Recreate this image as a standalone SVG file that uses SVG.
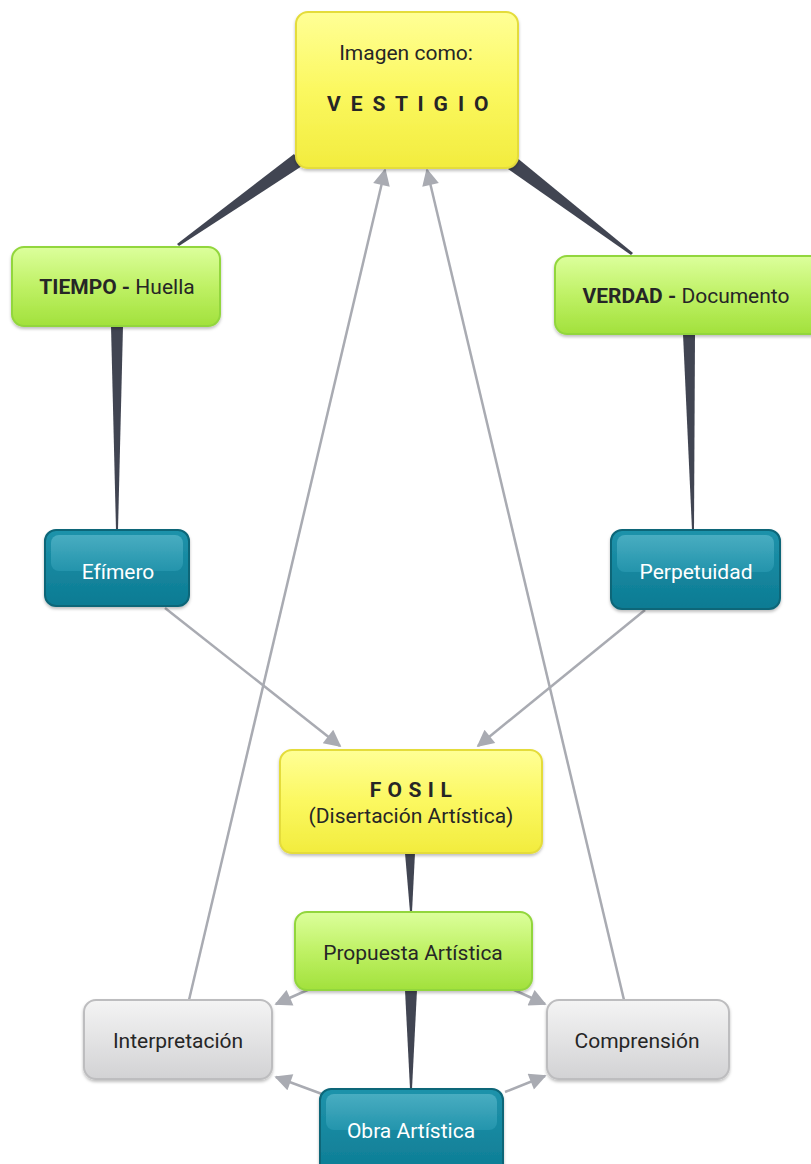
<svg xmlns="http://www.w3.org/2000/svg" width="811" height="1164" viewBox="0 0 811 1164">
<defs>
<linearGradient id="gY" x1="0" y1="0" x2="0" y2="1"><stop offset="0" stop-color="#ffff96"/><stop offset="0.5" stop-color="#fbf860"/><stop offset="1" stop-color="#f2ec3e"/></linearGradient>
<linearGradient id="gG" x1="0" y1="0" x2="0" y2="1"><stop offset="0" stop-color="#dcff9c"/><stop offset="0.5" stop-color="#bff165"/><stop offset="1" stop-color="#a2e13c"/></linearGradient>
<linearGradient id="gT" x1="0" y1="0" x2="0" y2="1"><stop offset="0" stop-color="#1f93ab"/><stop offset="1" stop-color="#0c7b93"/></linearGradient>
<linearGradient id="gTh" x1="0" y1="0" x2="0" y2="1"><stop offset="0" stop-color="#6cc3d4"/><stop offset="1" stop-color="#2f9fb7"/></linearGradient>
<linearGradient id="gS" x1="0" y1="0" x2="0" y2="1"><stop offset="0" stop-color="#f4f4f4"/><stop offset="1" stop-color="#d2d2d4"/></linearGradient>
<filter id="sh" x="-10%" y="-10%" width="120%" height="130%"><feDropShadow dx="0" dy="2" stdDeviation="1.5" flood-color="#000" flood-opacity="0.25"/></filter>
<marker id="ah" viewBox="0 0 10 10" refX="9" refY="5" markerUnits="userSpaceOnUse" markerWidth="19" markerHeight="17" orient="auto"><path d="M0,0 L10,5 L0,10 z" fill="#a9abb2"/></marker>
</defs>
<style>
.t{font-family:Roboto,"Liberation Sans",sans-serif;font-size:21px;fill:#262626;text-anchor:middle}
.w{fill:#ffffff}
.b{font-weight:bold}
.y{fill:url(#gY);stroke:#e4dc3a;stroke-width:2;filter:url(#sh)}
.g{fill:url(#gG);stroke:#92d63c;stroke-width:2;filter:url(#sh)}
.tl{fill:url(#gT);stroke:#0a6678;stroke-width:2;filter:url(#sh)}
.th{fill:url(#gTh);opacity:0.55}
.s{fill:url(#gS);stroke:#bdbdbf;stroke-width:2;filter:url(#sh)}
.wedge{fill:#414552}
.arr{stroke:#a9abb2;stroke-width:2.5;fill:none;marker-end:url(#ah)}
</style>
<g id="connectors">
<polygon class="wedge" points="302,166 294,154 177,244 179,246"/>
<polygon class="wedge" points="508,169 516,157 633,253 631,255"/>
<polygon class="wedge" points="111,326 123,326 118,530 116,530"/>
<polygon class="wedge" points="683,334 695,334 694,530 692,530"/>
<polygon class="wedge" points="405,853 415,853 412,912 410,912"/>
<polygon class="wedge" points="405,990 417,990 412,1089 410,1089"/>
<line class="arr" x1="165" y1="608" x2="340" y2="746"/>
<line class="arr" x1="645" y1="610" x2="478" y2="746"/>
<line class="arr" x1="189" y1="1000" x2="385" y2="170"/>
<line class="arr" x1="624" y1="1000" x2="427" y2="170"/>
<line class="arr" x1="312" y1="988" x2="276" y2="1004"/>
<line class="arr" x1="512" y1="989" x2="545" y2="1004"/>
<line class="arr" x1="322" y1="1094" x2="276" y2="1077"/>
<line class="arr" x1="505" y1="1092" x2="545" y2="1076"/>
</g>
<g id="n-vestigio">
<rect class="y" x="296" y="12" width="222" height="156" rx="12"/>
<text class="t" x="406" y="60">Imagen como:</text>
<text class="t b" x="409" y="111" style="letter-spacing:2.4px">V E S T I G I O</text>
</g>
<g id="n-tiempo">
<rect class="g" x="12" y="247" width="208" height="79" rx="12"/>
<text class="t" x="117" y="294"><tspan class="b">TIEMPO -</tspan> Huella</text>
</g>
<g id="n-verdad">
<rect class="g" x="555" y="256" width="270" height="78" rx="12"/>
<text class="t" x="686" y="303"><tspan class="b">VERDAD -</tspan> Documento</text>
</g>
<g id="n-efimero">
<rect class="tl" x="45" y="530" width="144" height="76" rx="11"/>
<rect class="th" x="51" y="535" width="132" height="36" rx="8"/>
<text class="t w" x="118" y="579">Efímero</text>
</g>
<g id="n-perpetuidad">
<rect class="tl" x="611" y="530" width="169" height="79" rx="11"/>
<rect class="th" x="617" y="535" width="157" height="37" rx="8"/>
<text class="t w" x="696" y="579">Perpetuidad</text>
</g>
<g id="n-fosil">
<rect class="y" x="280" y="750" width="262" height="103" rx="12"/>
<text class="t b" x="411" y="797" style="letter-spacing:0.6px">F O S I L</text>
<text class="t" x="411" y="823">(Disertación Artística)</text>
</g>
<g id="n-propuesta">
<rect class="g" x="295" y="912" width="237" height="78" rx="12"/>
<text class="t" x="413" y="960">Propuesta Artística</text>
</g>
<g id="n-interpretacion">
<rect class="s" x="84" y="1000" width="188" height="79" rx="12"/>
<text class="t" x="178" y="1048">Interpretación</text>
</g>
<g id="n-comprension">
<rect class="s" x="547" y="1000" width="182" height="79" rx="12"/>
<text class="t" x="637" y="1048">Comprensión</text>
</g>
<g id="n-obra">
<rect class="tl" x="320" y="1089" width="183" height="90" rx="11"/>
<rect class="th" x="326" y="1094" width="171" height="36" rx="8"/>
<text class="t w" x="411" y="1138">Obra Artística</text>
</g>
</svg>
